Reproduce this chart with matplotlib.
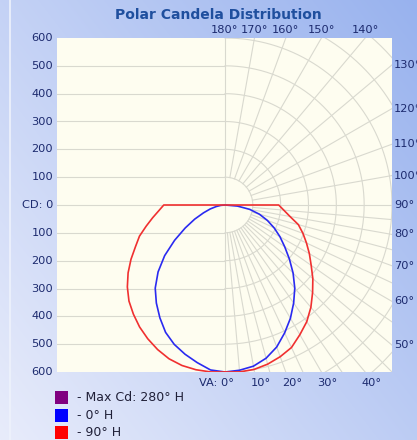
import numpy as np
import matplotlib
matplotlib.use("Agg")
import matplotlib.pyplot as plt
from matplotlib.transforms import blended_transform_factory, offset_copy

# ---------------- data ----------------
vert_angles = [0, 5, 10, 15, 20, 25, 30, 35, 40, 45, 50, 55, 60, 65, 70, 75, 80, 85, 90]
# 0° H plane (blue): right half / left half of the plot (candela)
h0_right = [600, 596, 588, 570, 543, 507, 470, 430, 390, 346, 302, 262, 228, 195, 162, 128, 90, 45, 0]
h0_left = [600, 595, 575, 555, 533, 505, 468, 430, 390, 340, 283, 221, 165, 120, 82, 55, 32, 15, 0]
# 90° H plane (red)
h90_right = [600, 602, 600, 592, 580, 565, 538, 512, 480, 445, 412, 378, 350, 323, 298, 273, 237, 212, 193]
h90_left = [600, 602, 601, 597, 588, 573, 555, 535, 512, 488, 458, 425, 390, 355, 327, 293, 264, 239, 220]

cd_ticks = [600, 500, 400, 300, 200, 100, 0, 100, 200, 300, 400, 500, 600]
top_ticks = [180, 170, 160, 150, 140]
right_ticks = [130, 120, 110, 100, 90, 80, 70, 60, 50]
bottom_ticks = [0, 10, 20, 30, 40]
legend_labels = ["- Max Cd: 280° H", "- 0° H", "- 90° H"]
legend_colors = ["#800080", "#0000ff", "#ff0000"]
title = "Polar Candela Distribution"

# ---------------- figure ----------------
W, H = 417, 440
fig = plt.figure(figsize=(W / 100, H / 100), dpi=100)

# background gradient
bg = fig.add_axes([0, 0, 1, 1], zorder=-10)
xs = np.linspace(0, 1, W)
ys = np.linspace(0, 1, H)
X, Y = np.meshgrid(xs, ys)
t = 0.55 * X + 0.45 * (1 - Y)
light = np.array([232, 236, 251]) / 255
dark = np.array([152, 178, 238]) / 255
img = light[None, None, :] * (1 - t[..., None]) + dark[None, None, :] * t[..., None]
bg.imshow(img, aspect="auto", extent=[0, W, H, 0])
bg.set_xlim(0, W)
bg.set_ylim(H, 0)
bg.axis("off")
bg.plot([10, 10], [0, H], color="#eef2fc", lw=1.2)

# main plot area in pixel coordinates
L, R, T, B = 57, 392, 38, 372
ax = fig.add_axes([L / W, 1 - B / H, (R - L) / W, (B - T) / H])
ax.set_facecolor("#fefdf0")
scale = (B - T) / 1200.0  # px per cd
xmin = -(225 - L) / scale
xmax = (R - 225) / scale
ax.set_xlim(xmin, xmax)
ax.set_ylim(-600, 600)
ax.set_xticks([])
ax.set_yticks([])
for s in ax.spines.values():
    s.set_visible(False)

gc = "#d9d9cf"
glw = 0.8
# left half horizontal lines
for v in range(-500, 600, 100):
    ax.plot([xmin, 0], [v, v], color=gc, lw=glw, zorder=1)
ax.plot([0, 0], [-600, 600], color=gc, lw=glw, zorder=1)
ax.plot([0, xmax], [0, 0], color=gc, lw=glw, zorder=1)
# right half arcs
phi = np.radians(np.linspace(0, 180, 361))
for r in range(100, 1000, 100):
    ax.plot(r * np.sin(phi), -r * np.cos(phi), color=gc, lw=glw, zorder=1)
# radial lines
radials = list(range(5, 90, 5)) + list(range(100, 180, 10))
for a in radials:
    ar = np.radians(a)
    ax.plot([100 * np.sin(ar), 1200 * np.sin(ar)], [-100 * np.cos(ar), -1200 * np.cos(ar)],
            color=gc, lw=glw, zorder=1)


def curve(right, left):
    th = np.radians(vert_angles)
    xr = np.array(right) * np.sin(th)
    yr = -np.array(right) * np.cos(th)
    xl = -np.array(left) * np.sin(th)
    yl = -np.array(left) * np.cos(th)
    x = np.concatenate([xr, xl[::-1]])
    y = np.concatenate([yr, yl[::-1]])
    return x, y


x0, y0 = curve(h0_right, h0_left)
ax.plot(x0, y0, color="#2a2af0", lw=1.2, zorder=3)
x9, y9 = curve(h90_right, h90_left)
ax.plot(x9, y9, color="#f03030", lw=1.2, zorder=3)

tc = "#1c2a6e"
fs = 8.2
# left CD labels
tr_left = offset_copy(blended_transform_factory(ax.transAxes, ax.transData), fig=fig, x=-4, y=0, units="dots")
for i, v in enumerate(cd_ticks):
    yv = 600 - 100 * i
    lab = "CD: 0" if yv == 0 else str(v)
    ax.text(0, yv, lab, transform=tr_left, ha="right", va="center", fontsize=fs, color=tc)
# top labels
tr_top = offset_copy(ax.transData, fig=fig, x=0, y=8, units="dots")
for a in top_ticks:
    xv = 600 * np.tan(np.radians(180 - a))
    ax.text(xv, 600, f"{a}°", transform=tr_top, ha="center", va="center", fontsize=fs, color=tc, clip_on=False)
# right labels
tr_right = offset_copy(blended_transform_factory(ax.transAxes, ax.transData), fig=fig, x=2, y=0, units="dots")
for a in right_ticks:
    yv = -600 / np.tan(np.radians(a)) if a != 90 else 0.0
    ax.text(1, yv, f"{a}°", transform=tr_right, ha="left", va="center", fontsize=fs, color=tc, clip_on=False)
# bottom labels
tr_bot = offset_copy(ax.transData, fig=fig, x=6, y=-11, units="dots")
tr_bot0 = offset_copy(ax.transData, fig=fig, x=9, y=-11, units="dots")
for a in bottom_ticks:
    xv = 600 * np.tan(np.radians(a))
    if a == 0:
        ax.text(xv, -600, "VA: 0°", transform=tr_bot0, ha="right", va="center", fontsize=fs, color=tc, clip_on=False)
    else:
        ax.text(xv, -600, f"{a}°", transform=tr_bot, ha="center", va="center", fontsize=fs, color=tc, clip_on=False)

# title
fig.text(218 / W, 1 - 15 / H, title, ha="center", va="center", fontsize=10, fontweight="bold", color="#1f4f9e")

# legend
rows = [397.5, 415.5, 433]
for lab, col, yy in zip(legend_labels, legend_colors, rows):
    bg.add_patch(plt.Rectangle((55, yy - 6.5), 13, 13, facecolor=col, edgecolor="none"))
    bg.text(77, yy, lab, ha="left", va="center", fontsize=9, color="#202038")

fig.savefig("out.png", dpi=100)
